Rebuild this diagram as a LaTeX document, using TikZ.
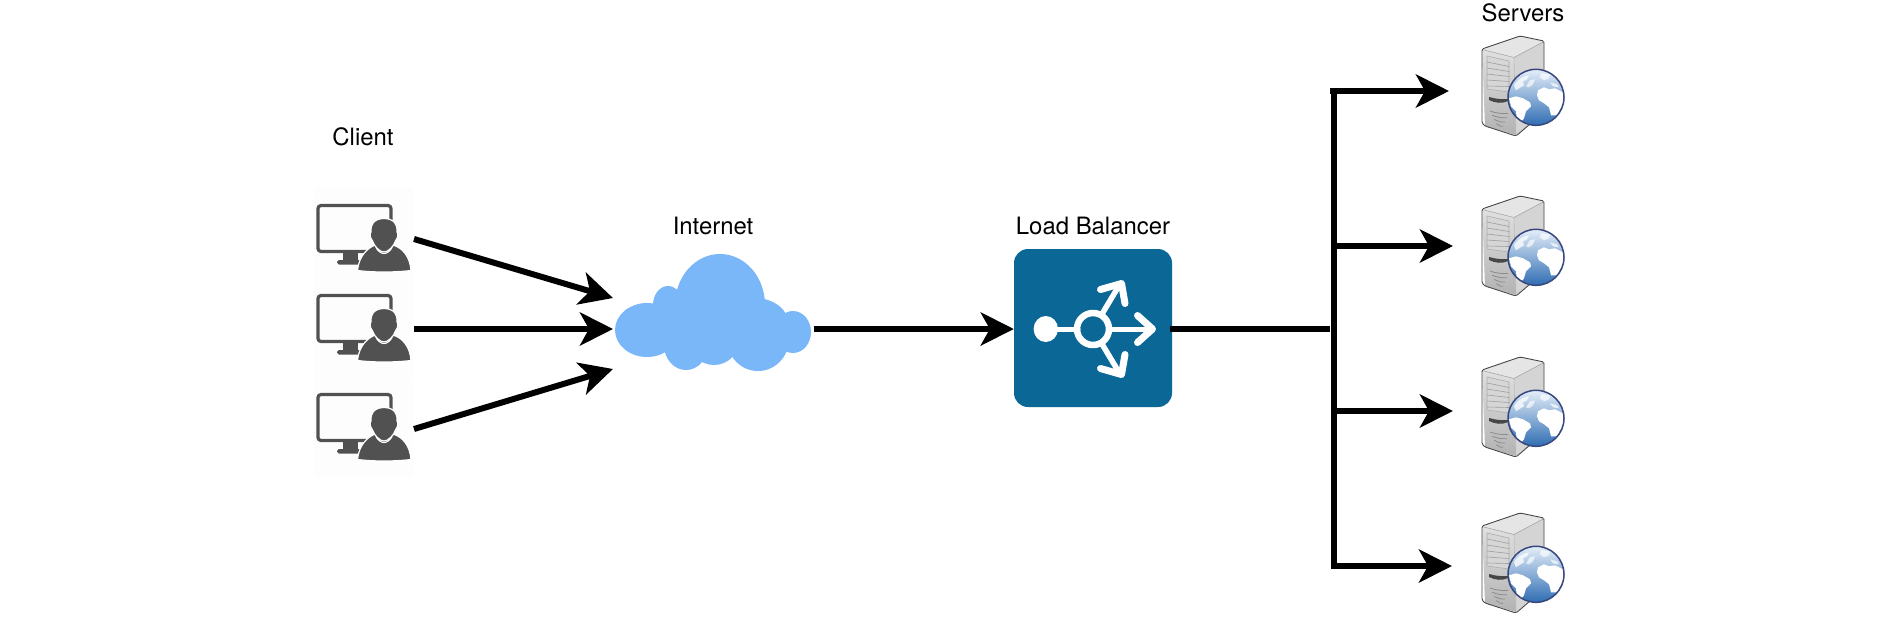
\documentclass[tikz,border=0pt]{standalone}
\usepackage{fontspec}
\setmainfont{TeX Gyre Heros}
\usetikzlibrary{arrows.meta}
\definecolor{icongray}{HTML}{515151}
\definecolor{cloudblue}{HTML}{7AB7F8}
\definecolor{lbblue}{HTML}{0A6796}
\definecolor{navyrim}{HTML}{39477F}
\definecolor{seatop}{HTML}{E4EEF9}
\definecolor{seamid}{HTML}{B0CCEB}
\definecolor{seabot}{HTML}{2F6DB3}
\tikzset{
  label text/.style={inner sep=0pt,font=\fontsize{23.9}{28}\selectfont,text=black},
  link/.style={line width=6pt,draw=black},
  arrowlink/.style={link,-{Stealth[length=33pt,width=33pt,inset=9pt]}},
  lb stroke/.style={draw=white,line width=#1,line cap=round,line join=round},
  tile/.style={fill=black!0.9,draw=none},
  clientpic/.pic={
    % monitor
    \draw[icongray,line width=3.2pt,rounded corners=3pt] (4,18.5) rectangle (77,64.5);
    \fill[icongray] (29,66) rectangle (44,74);
    \fill[icongray,rounded corners=1.8pt] (23,73) rectangle (47,77.5);
    % person
    \filldraw[icongray,draw=white,line width=1.2pt]
      (43.5,83.5) .. controls (45,69) and (53,61.5) .. (61,58)
      .. controls (63,64) and (67,66.5) .. (70,66.5)
      .. controls (73,66.5) and (77,64) .. (79,58)
      .. controls (89,61) and (96,70) .. (97,83.5)
      .. controls (80,85.5) and (60,85.5) .. (43.5,83.5) -- cycle;
    \filldraw[icongray,draw=white,line width=1.2pt]
      (70,31.5) .. controls (80,31.5) and (84,38) .. (83,45)
      .. controls (84.5,46) and (84,51) .. (82,53)
      .. controls (79.5,60) and (74,65) .. (70,65)
      .. controls (66,65) and (60.5,60) .. (58,53)
      .. controls (56,51) and (55.5,46) .. (57,45)
      .. controls (56,38) and (60,31.5) .. (70,31.5) -- cycle;
  },
  serverpic/.pic={
    % side and top
    \fill[black!17] (32,21) -- (62,5) -- (62,76) -- (34,99) -- cycle;
    \fill[black!10] (0,13) -- (38,0) -- (62,5) -- (32,21) -- cycle;
    \shade[top color=black!12,bottom color=black!30] (0,13) -- (32,21) -- (34,99) -- (3,90) -- cycle;
    \draw[black!72,line width=.9pt,line join=round,rounded corners=1.5pt]
      (0,13) -- (38,0) -- (62,5) -- (62,76) -- (34,100) -- (3,90) -- (0,87) -- cycle;
    \draw[black!35,line width=.6pt] (2,14) -- (32,21.5) -- (62,5.5);
    \draw[black!28,line width=.6pt] (32,21.5) -- (34,99);
    % drive panel
    \fill[black!16,draw=black!32,line width=.6pt] (5,20) -- (27,25) -- (27,56) -- (5,53) -- cycle;
    \foreach \q in {0,1,2,3,4}{
      \draw[black!38,line width=.6pt] (5,26+6*\q) -- (27,30.5+5*\q);
    }
    % slot and grille
    \fill[black!72] (7,61) .. controls (14,63) and (20,63.5) .. (26,63)
       -- (26,65) .. controls (20,68) and (13,67) .. (7,64) -- cycle;
    \foreach \q/\a/\b in {0/8/26,1/10/25,2/12/23,3/14/21}{
      \draw[black!45,line width=.8pt] (\a,75+4.2*\q) .. controls (\a+5,77+4.2*\q) and (\b-5,78+4.2*\q) .. (\b,77.5+4.2*\q);
    }
    % globe
    \begin{scope}[shift={(54,61.3)}]
      \shade[top color=seatop,middle color=seamid,bottom color=seabot] (0,0) circle (28);
      \begin{scope}
        \clip (0,0) circle (28);
        % North America wisps
        \fill[white,opacity=.75] (-22,-12) .. controls (-18,-19) and (-12,-21) .. (-7,-22)
          -- (-9,-18) -- (-13,-16) -- (-12,-12) -- (-17,-9) -- (-20,-7) -- cycle;
        \fill[white,opacity=.65] (-6,-17) -- (-1,-18) -- (-3,-13) -- (-7,-10) -- (-10,-11) -- cycle;
        \fill[white,opacity=.65] (5,-24) -- (14,-23) -- (13,-19) -- (8,-17) -- (4,-20) -- cycle;
        \fill[white,opacity=.7] (14,-15) -- (21,-13) -- (23,-10) -- (17,-11) -- cycle;
        % Africa
        \fill[white] (2,-7) -- (8,-10) -- (13,-8) -- (19,-9) -- (25,-6) -- (29,-3)
          -- (28,6) -- (24,12) -- (21,18) -- (15,18) -- (13,10) -- (8,6) -- (3,3) -- (1,-2) -- cycle;
        % South America
        \fill[white] (-27,1) -- (-20,-1) -- (-13,1) -- (-6,5) -- (-5,9) -- (-10,14)
          -- (-12,21) -- (-16,26) -- (-19,25) -- (-20,14) -- (-25,9) -- cycle;
      \end{scope}
      \draw[navyrim,line width=1.5pt] (0,0) circle (28);
    \end{scope}
  }
}
\begin{document}
\begin{tikzpicture}[x=1pt,y=-1pt]
\useasboundingbox (0,0) rectangle (1888,625);
\fill[white] (0,0) rectangle (1888,625);

% labels
\node[label text] (clientlabel) at (363,137) {Client};
\node[label text] (internetlabel) at (713,226) {Internet};
\node[label text] (lblabel) at (1093,226) {Load Balancer};
\node[label text] (serverslabel) at (1523,13) {Servers};

% client tiles
\fill[tile] (314,188) rectangle (413,277);
\fill[tile] (314,277) rectangle (413,376);
\fill[tile] (314,377) rectangle (413,477);

% clients
\pic (client1) at (314,187) {clientpic};
\pic (client2) at (314,277) {clientpic};
\pic (client3) at (314,376) {clientpic};

% cloud
\foreach \cx/\cy/\rx/\ry in {720/305/45/51,647/330/32/27,668/305/15/19,755/325/34/27,793/332/18/21,758/339/31/32,714/338/26/27,686/345/22/25}{
  \fill[cloudblue] (\cx,\cy) ellipse ({\rx} and {\ry});
}
\fill[cloudblue] (650,315) rectangle (790,345);

% load balancer
\node[fill=lbblue,rounded corners=14pt,minimum width=158pt,minimum height=158pt,inner sep=0pt] (lb) at (1093,328) {};
\fill[white] (1045.8,329) ellipse (12.2 and 13);
\draw[lb stroke=5pt] (1050,329) -- (1078,329);
\draw[lb stroke=6.5pt] (1093,329) circle (16);
\draw[lb stroke=5pt] (1109,329) -- (1150,329);
\draw[lb stroke=7pt] (1137.5,315.5) -- (1152.5,329) -- (1137.5,342.5);
\draw[lb stroke=5.5pt] (1102,314) -- (1120,284);
\draw[lb stroke=7pt] (1100.5,289.5) -- (1121.5,283.5) -- (1125,303.5);
\draw[lb stroke=5.5pt] (1102,344) -- (1120,374);
\draw[lb stroke=7pt] (1100.5,368.5) -- (1121.5,374.5) -- (1125,354.5);

% servers
\pic (server1) at (1482,36) {serverpic};
\pic (server2) at (1482,196) {serverpic};
\pic (server3) at (1482,357) {serverpic};
\pic (server4) at (1482,513) {serverpic};

% connector ends
\coordinate (c1out) at (414,239);
\coordinate (c2out) at (414,329);
\coordinate (c3out) at (414,429);
\coordinate (cloudin1) at (613,298);
\coordinate (cloudin2) at (613,329);
\coordinate (cloudin3) at (613,369);
\coordinate (cloudout) at (813.5,329);
\coordinate (lbout) at (1170,329);
\coordinate (busin) at (1330,329);
\coordinate (bustop) at (1330,91);
\coordinate (busjoint1) at (1334,88);
\coordinate (busjoint2) at (1334,569);
\coordinate (busbranch2) at (1334,246);
\coordinate (busbranch3) at (1334,411);
\coordinate (busbranch4) at (1331,566);
\coordinate (s1in) at (1449,91);
\coordinate (s2in) at (1453,246);
\coordinate (s3in) at (1453,411);
\coordinate (s4in) at (1452,566);

% connectors
\draw[arrowlink] (c1out) -- (cloudin1);
\draw[arrowlink] (c2out) -- (cloudin2);
\draw[arrowlink] (c3out) -- (cloudin3);
\draw[arrowlink] (cloudout) -- (lb.west |- cloudout);
\draw[link] (lbout) -- (busin);
\draw[link] (busjoint1) -- (busjoint2);
\draw[arrowlink] (bustop) -- (s1in);
\draw[arrowlink] (busbranch2) -- (s2in);
\draw[arrowlink] (busbranch3) -- (s3in);
\draw[arrowlink] (busbranch4) -- (s4in);
\end{tikzpicture}
\end{document}
